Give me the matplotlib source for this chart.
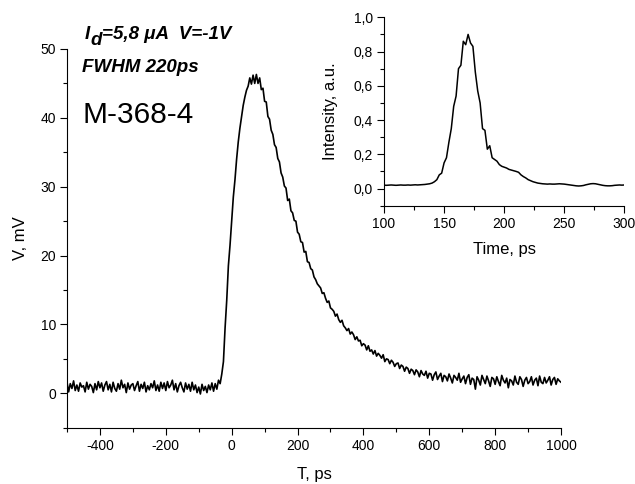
import numpy as np
import matplotlib
matplotlib.use("Agg")
import matplotlib.pyplot as plt
from matplotlib.ticker import MultipleLocator, FuncFormatter

plt.rcParams['font.family'] = ['Liberation Sans', 'DejaVu Sans']
plt.rcParams['axes.unicode_minus'] = False

# main trace, T in ps (step 5), V in mV
t_main = np.arange(-500, 1001, 5)
v_main = [
    # -500 .. -40
    1.6, 0.2, 1.4, 0.7, 1.8, 0.4, 1.2, 0.3, 1.5, 0.9,
    1.1, 0.2, 1.6, 0.6, 1.3, 1.0, 0.1, 1.4, 0.5, 1.7,
    0.8, 1.5, 0.3, 1.2, 1.7, 0.5, 1.3, 0.2, 1.6, 0.7,
    0.3, 1.4, 0.6, 1.9, 0.8, 1.3, 0.1, 1.5, 0.6, 1.2,
    1.4, 0.4, 1.1, 1.7, 0.3, 1.3, 0.7, 1.6, 0.2, 1.1,
    0.5, 1.4, 0.8, 1.8, 0.4, 1.2, 0.3, 1.6, 0.7, 1.5,
    0.4, 1.7, 0.8, 1.2, 1.9, 0.5, 1.4, 0.2, 1.1, 1.6,
    0.8, 0.2, 1.5, 0.6, 1.3, 0.3, 1.6, 0.5, 1.2, 0.1,
    0.9, -0.1, 1.3, 0.4, 1.0, 0.1, 1.2, 0.5, 1.5, 0.3,
    1.4, 0.6, 1.9,
    # -35 .. 250
    1.4, 2.8, 4.6, 9.5, 13.5, 18.5, 21.5, 25.0, 28.5, 31.0,
    34.0, 36.5, 38.5, 40.2, 41.8, 43.0, 44.0, 44.6, 45.8, 44.9,
    46.2, 45.0, 46.3, 45.0, 45.8, 44.1, 44.3, 42.4, 42.3, 40.2,
    39.8, 38.2, 37.6, 36.1, 35.7, 34.1, 33.6, 32.0, 31.4, 30.1,
    29.8, 28.0, 28.2, 26.5, 26.2, 25.1, 25.0, 23.4, 23.1, 22.0,
    21.9, 20.5, 20.6, 19.1, 19.0, 18.1, 17.9, 16.9,
    # 255 .. 1000
    16.5, 15.9, 15.6, 15.3, 14.5, 14.6, 13.8, 13.2, 13.4, 12.4,
    12.2, 11.9, 11.2, 11.5, 10.7, 10.3, 10.6, 9.8, 9.5, 9.1,
    9.4, 8.6, 8.9, 8.5, 7.8, 8.2, 7.6, 7.7, 6.9, 7.2,
    7.0, 6.3, 6.9, 6.1, 6.3, 5.7, 6.2, 5.4, 5.8, 5.5,
    5.1, 5.6, 4.6, 5.0, 4.9, 4.3, 4.8, 4.5, 3.9, 4.3,
    4.4, 3.6, 4.1, 3.9, 3.2, 3.8, 3.6, 2.9, 3.5, 3.3,
    2.7, 3.4, 3.1, 2.4, 3.3, 2.8, 2.6, 3.2, 2.2, 2.9,
    2.8, 1.9, 2.7, 3.1, 2.0, 2.5, 2.9, 1.7, 2.6, 2.4,
    1.8, 2.8, 2.2, 1.5, 2.6, 2.3, 1.9, 2.9, 1.6, 2.1,
    2.5, 1.4, 2.3, 2.7, 1.3, 2.2, 2.0, 0.6, 2.4, 1.9,
    1.2, 2.6, 2.0, 1.4, 2.5, 1.8, 1.0, 2.3, 2.1, 1.3,
    2.4, 1.7, 1.1, 2.6, 1.9, 1.5, 2.2, 0.8, 2.0, 1.8,
    1.2, 2.5, 1.6, 1.3, 2.4, 2.0, 1.0, 1.9, 2.3, 1.4,
    1.7, 2.4, 1.2, 1.9, 2.2, 1.1, 2.5, 1.6, 1.4, 2.3,
    1.5, 1.9, 2.4, 1.2, 2.0, 2.3, 1.3, 2.1, 1.8, 1.6,
]

# inset trace, time in ps (step 2), intensity in a.u.
t_ins = np.arange(100, 301, 2)
i_ins = [
    # 100 .. 138
    0.020, 0.019, 0.020, 0.021, 0.020, 0.019, 0.020, 0.021, 0.020, 0.020,
    0.021, 0.020, 0.021, 0.022, 0.021, 0.022, 0.023, 0.024, 0.026, 0.028,
    # 140 .. 300
    0.032, 0.040, 0.052, 0.080, 0.090, 0.15, 0.18, 0.27, 0.35, 0.48,
    0.54, 0.70, 0.72, 0.86, 0.84, 0.90, 0.85, 0.83, 0.68, 0.57,
    0.50, 0.35, 0.34, 0.23, 0.25, 0.18, 0.17, 0.16, 0.14, 0.13,
    0.125, 0.12, 0.112, 0.108, 0.104, 0.10, 0.095, 0.08, 0.07, 0.062,
    0.052, 0.046, 0.040, 0.036, 0.032, 0.030, 0.028, 0.027, 0.026, 0.027,
    0.026, 0.026, 0.027, 0.028, 0.027, 0.026, 0.024, 0.022, 0.020, 0.018,
    0.016, 0.015, 0.016, 0.018, 0.022, 0.025, 0.028, 0.029, 0.028, 0.025,
    0.022, 0.019, 0.017, 0.016, 0.016, 0.017, 0.019, 0.020, 0.021, 0.020,
    0.021,
]

comma = FuncFormatter(lambda v, p: ('%.1f' % v).replace('.', ','))

W, H = 635, 484
fig = plt.figure(figsize=(W / 100, H / 100), dpi=100)

ax = fig.add_axes([0.1055, 0.1163, 0.7780, 0.7825])
ax.plot(t_main, v_main, color='black', lw=1.2)
ax.set_xlim(-500, 1000)
ax.set_ylim(-5, 50)
ax.set_xticks([-400, -200, 0, 200, 400, 600, 800, 1000])
ax.set_yticks([0, 10, 20, 30, 40, 50])
ax.xaxis.set_minor_locator(MultipleLocator(100))
ax.yaxis.set_minor_locator(MultipleLocator(5))
ax.set_xlabel('T, ps', fontsize=12, labelpad=10)
ax.set_ylabel('V, mV', fontsize=12, labelpad=9)

ins = fig.add_axes([0.6047, 0.575, 0.3785, 0.3893])
ins.plot(t_ins, i_ins, color='black', lw=1.1)
ins.set_xlim(100, 300)
ins.set_ylim(-0.1, 1.0)
ins.set_xticks([100, 150, 200, 250, 300])
ins.set_yticks([0.0, 0.2, 0.4, 0.6, 0.8, 1.0])
ins.yaxis.set_major_formatter(comma)
ins.xaxis.set_minor_locator(MultipleLocator(25))
ins.yaxis.set_minor_locator(MultipleLocator(0.1))
ins.set_xlabel('Time, ps', fontsize=12, labelpad=8)
ins.set_ylabel('Intensity, a.u.', fontsize=12, labelpad=11)

for a in (ax, ins):
    a.spines['top'].set_visible(False)
    a.spines['right'].set_visible(False)
    a.tick_params(which='major', direction='out', length=5, width=0.8,
                  labelsize=10, pad=3)
    a.tick_params(which='minor', direction='out', length=3, width=0.8)

# annotations
fig.text(82.7 / W, 1 - 123.3 / H, 'M-368-4', fontsize=21.5, va='baseline')
fig.text(81.7 / W, 1 - 71.7 / H, 'FWHM 220ps', fontsize=13.5,
         fontweight='bold', fontstyle='italic', va='baseline')

bi = dict(fontsize=13.5, fontweight='bold', fontstyle='italic', va='baseline')
base = 1 - 39.3 / H
r = fig.canvas.get_renderer()
t1 = fig.text(85 / W, base, 'I', **bi)
x1 = t1.get_window_extent(r).x1
t2 = fig.text((x1 + 0.5) / W, base - 6 / H, 'd', **bi)
x2 = t2.get_window_extent(r).x1
fig.text((x2 - 0.5) / W, base, '=5,8 \u03bcA  V=-1V', **bi)

fig.savefig('out.png', dpi=100)
